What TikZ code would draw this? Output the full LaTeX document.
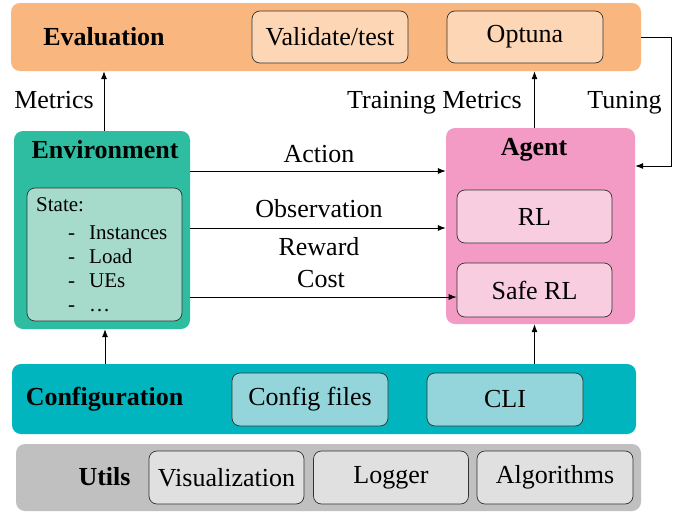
\documentclass[tikz,border=0pt]{standalone}
\usepackage{fontspec}
\setmainfont{Liberation Serif}
\usetikzlibrary{arrows.meta}

\definecolor{evalband}{RGB}{249,182,126}
\definecolor{evalin}{RGB}{253,214,181}
\definecolor{envband}{RGB}{46,189,160}
\definecolor{envin}{RGB}{166,219,203}
\definecolor{agentband}{RGB}{243,155,196}
\definecolor{agentin}{RGB}{248,205,224}
\definecolor{cfgband}{RGB}{0,181,190}
\definecolor{cfgin}{RGB}{147,213,219}
\definecolor{utilband}{RGB}{192,192,192}
\definecolor{utilin}{RGB}{224,224,224}
\definecolor{edge}{RGB}{50,50,50}

\tikzset{
  band/.style={rectangle, rounded corners=9pt, draw=none, inner sep=0pt},
  subbox/.style={rectangle, rounded corners=8pt, draw=edge, line width=0.7pt,
    inner sep=0pt, font=\fontsize{26}{30}\selectfont},
  title/.style={font=\fontsize{26}{30}\selectfont\bfseries, inner sep=0pt, anchor=base},
  lbl/.style={font=\fontsize{26}{30}\selectfont, inner sep=0pt, anchor=base},
  small/.style={font=\fontsize{21}{24}\selectfont, inner sep=0pt, anchor=base west},
  arr/.style={line width=0.8pt, -{Latex[length=8pt,width=6pt]}}
}

\begin{document}
\begin{tikzpicture}[x=1pt, y=-1pt]
  \useasboundingbox (0,0) rectangle (688,514);

  % Evaluation layer
  \node[band, fill=evalband, minimum width=630pt, minimum height=68pt] (eval) at (326,37) {};
  \node[title] (evaltitle) at (104,45) {Evaluation};
  \node[subbox, fill=evalin, minimum width=156pt, minimum height=52pt] (valid) at (330,37) {Validate/test};
  \node[subbox, fill=evalin, minimum width=156pt, minimum height=52pt] (optuna) at (525,37) {Optuna};

  % Environment
  \node[band, fill=envband, minimum width=176pt, minimum height=198pt] (env) at (102,230) {};
  \node[title] (envtitle) at (105,158) {Environment};
  \node[subbox, fill=envin, minimum width=155pt, minimum height=133pt] (state) at (104.5,254.5) {};
  \node[small] (statelbl) at (36,211) {State:};
  \node[small] (statelist) at (68,239) {\begin{tabular}[t]{@{}l@{\hspace{14pt}}l@{}}
      - & Instances\\
      - & Load\\
      - & UEs\\
      - & \dots
    \end{tabular}};

  % Agent
  \node[band, fill=agentband, minimum width=189pt, minimum height=196pt] (agent) at (540.5,226) {};
  \node[title] (agenttitle) at (534,155) {Agent};
  \node[subbox, fill=agentin, minimum width=155pt, minimum height=53pt] (rl) at (534.5,216.5) {RL};
  \node[subbox, fill=agentin, minimum width=155pt, minimum height=54pt] (saferl) at (534.5,290) {Safe RL};

  % Configuration layer
  \node[band, fill=cfgband, minimum width=624pt, minimum height=70pt] (cfg) at (324,399) {};
  \node[title] (cfgtitle) at (104.5,405) {Configuration};
  \node[subbox, fill=cfgin, minimum width=156pt, minimum height=53pt] (cfgfiles) at (310,399.5) {Config files};
  \node[subbox, fill=cfgin, minimum width=156pt, minimum height=53pt] (cli) at (505,399.5) {CLI};

  % Utils layer
  \node[band, fill=utilband, minimum width=625pt, minimum height=67pt] (utils) at (328.5,477.5) {};
  \node[title] (utilstitle) at (104.5,485) {Utils};
  \node[subbox, fill=utilin, minimum width=155pt, minimum height=53pt] (vis) at (226.5,477.5) {Visualization};
  \node[subbox, fill=utilin, minimum width=155pt, minimum height=53pt] (logger) at (391,477.5) {Logger};
  \node[subbox, fill=utilin, minimum width=156pt, minimum height=53pt] (algo) at (555,477.5) {Algorithms};

  % Connectors
  \draw[arr] ([xshift=2pt]env.north) -- ([xshift=2pt]env.north |- eval.south);
  \draw[arr] ([xshift=-6pt]agent.north) -- ([xshift=-6pt]agent.north |- eval.south);
  \draw[arr] (eval.east) -- ++(30,0) |- ([yshift=60pt]agent.east);
  \draw[arr] ([xshift=3pt]env.south |- cfg.north) -- ([xshift=3pt]env.south);
  \draw[arr] ([xshift=-6pt]agent.south |- cfg.north) -- ([xshift=-6pt]agent.south);
  \draw[arr] ([yshift=59pt]env.east) -- ([yshift=59pt]env.east -| agent.west);
  \draw[arr] ([yshift=2pt]env.east) -- ([yshift=2pt]env.east -| agent.west);
  \draw[arr] ([yshift=-67pt]env.east) -- ([yshift=-67pt]env.east -| saferl.west);

  % Connector labels
  \node[lbl] (lmetrics) at (54,108) {Metrics};
  \node[lbl] (ltrain) at (434.5,108) {Training Metrics};
  \node[lbl] (ltuning) at (624.5,108) {Tuning};
  \node[lbl] (laction) at (319,162) {Action};
  \node[lbl] (lobs) at (319,217) {Observation};
  \node[lbl] (lreward) at (319,255) {Reward};
  \node[lbl] (lcost) at (321,287) {Cost};
\end{tikzpicture}
\end{document}
